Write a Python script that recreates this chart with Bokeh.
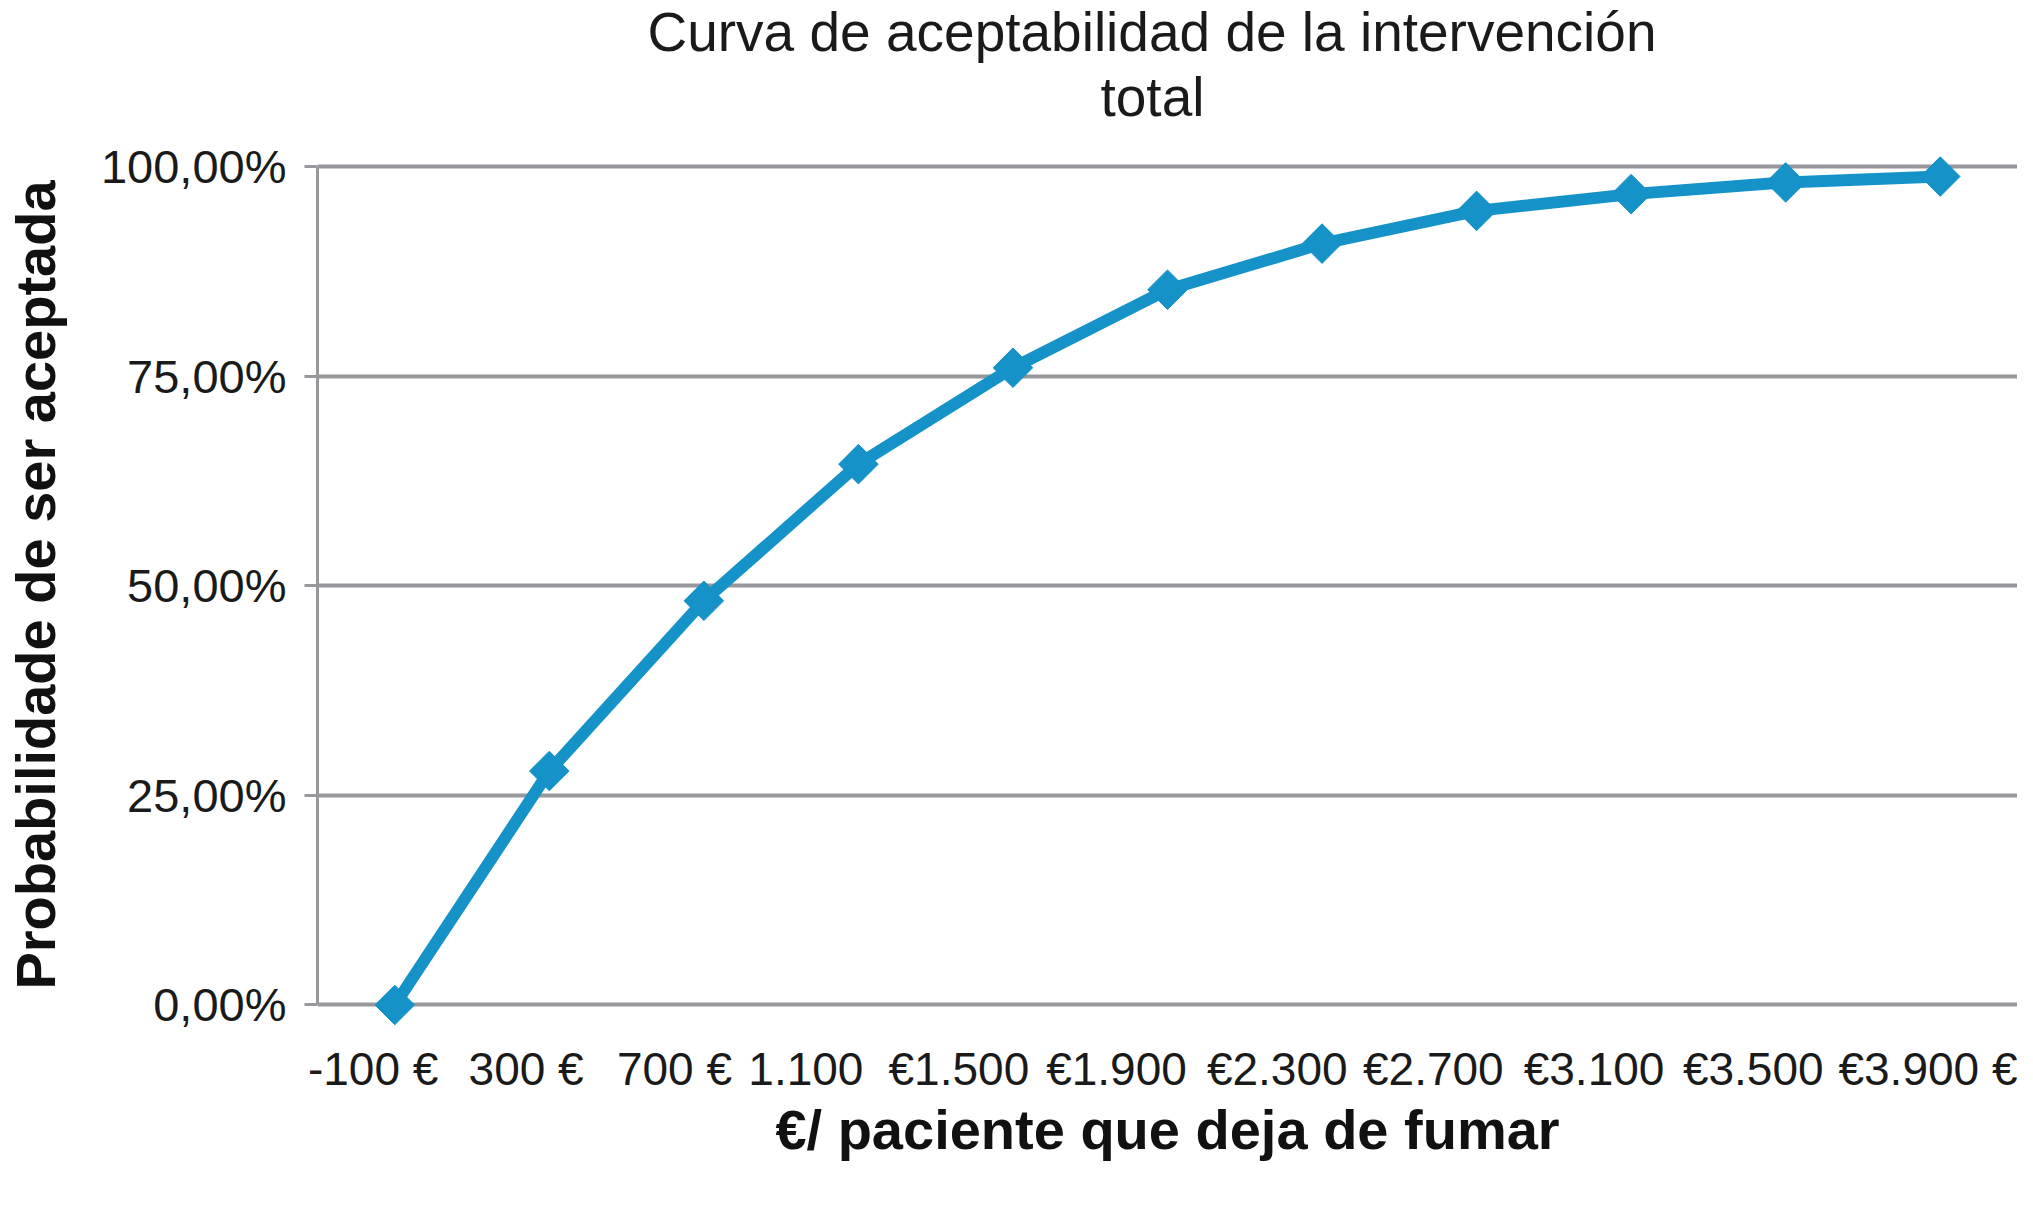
import math
from bokeh.plotting import figure
from bokeh.models import Range1d, Title
from bokeh.embed import file_html
from bokeh.resources import INLINE

# ---- data ----
cost_labels = ["-100 €", "300 €", "700 €", "1.100", "€1.500", "€1.900",
               "€2.300", "€2.700", "€3.100", "€3.500", "€3.900 €"]
prob_accept = [0.0, 0.279, 0.482, 0.645, 0.760, 0.853,
               0.908, 0.947, 0.967, 0.981, 0.988]
y_ticks = [0, 0.25, 0.5, 0.75, 1]
y_tick_labels = ["0,00%", "25,00%", "50,00%", "75,00%", "100,00%"]
# the original's x labels sit a little left of their point (fraction of a category)
label_shift = [0.14, 0.15, 0.19, 0.34, 0.35, 0.33, 0.29, 0.28, 0.24, 0.21, 0.0]

x_idx = list(range(len(cost_labels)))

FONT = "Liberation Sans"
GRAY = "#98989C"
BLUE = "#1593C8"
TXT = "#1a1a1a"

p = figure(x_range=Range1d(-0.5, len(cost_labels) - 0.5),
           y_range=Range1d(-0.04, 1.0417),
           width=2017, height=1196, output_backend="svg",
           toolbar_location=None,
           min_border_left=316, min_border_right=0,
           min_border_top=0, min_border_bottom=158)
p.outline_line_color = None
p.background_fill_color = "white"
p.border_fill_color = "white"

# titles (the one added later sits closer to the plot)
p.title.text = "Curva de aceptabilidad de la intervención"
p.title.align = "left"
p.title.offset = 330
p.title.vertical_align = "top"
p.title.text_font = FONT
p.title.text_font_size = "55px"
p.title.text_font_style = "normal"
p.title.text_color = TXT
p.title.standoff = 0
p.add_layout(Title(text="total", align="left", offset=783,
                   vertical_align="top",
                   text_font=FONT, text_font_size="55px",
                   text_font_style="normal", text_color=TXT,
                   standoff=3), "above")

# grid
p.xgrid.visible = False
p.ygrid.grid_line_color = GRAY
p.ygrid.grid_line_width = 4

# y axis
ya = p.yaxis[0]
ya.ticker = y_ticks
ya.major_label_overrides = {t: l for t, l in zip(y_ticks, y_tick_labels)}
ya.bounds = (0, 1)
ya.axis_line_color = GRAY
ya.axis_line_width = 3
ya.major_tick_line_color = GRAY
ya.major_tick_line_width = 3
ya.major_tick_out = 13
ya.major_tick_in = 0
ya.minor_tick_line_color = None
ya.major_label_standoff = 18
ya.major_label_text_font = FONT
ya.major_label_text_font_size = "47px"
ya.major_label_text_color = TXT
ya.axis_label = "Probabilidade de ser aceptada"
ya.axis_label_text_font = FONT
ya.axis_label_text_font_size = "56px"
ya.axis_label_text_font_style = "bold"
ya.axis_label_text_color = "#111111"
ya.axis_label_standoff = 31

# x axis (labels at category positions, nudged as in the original)
x_tick_pos = [i - s for i, s in zip(x_idx, label_shift)]
xa = p.xaxis[0]
xa.ticker = x_tick_pos
xa.major_label_overrides = {t: l for t, l in zip(x_tick_pos, cost_labels)}
xa.axis_line_color = None
xa.major_tick_line_color = None
xa.minor_tick_line_color = None
xa.major_tick_out = 0
xa.major_tick_in = 0
xa.major_label_standoff = 4
xa.major_label_text_font = FONT
xa.major_label_text_font_size = "46px"
xa.major_label_text_color = TXT
xa.axis_label = "€/ paciente que deja de fumar"
xa.axis_label_text_font = FONT
xa.axis_label_text_font_size = "56px"
xa.axis_label_text_font_style = "bold"
xa.axis_label_text_color = "#111111"
xa.axis_label_standoff = 0

# series
p.line(x=x_idx, y=prob_accept, line_color=BLUE, line_width=12)
p.scatter(x=x_idx, y=prob_accept, marker="square", angle=math.pi / 4,
          size=28, fill_color=BLUE, line_color=BLUE)

open("out.html", "w").write(file_html(p, INLINE))
